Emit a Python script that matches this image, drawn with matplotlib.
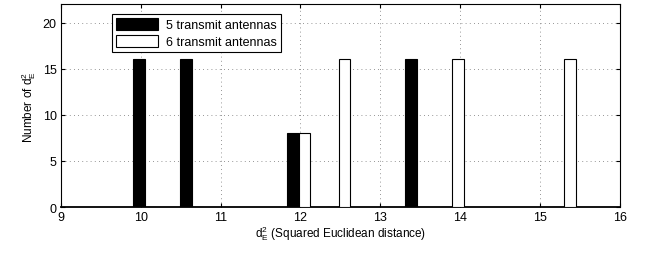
import numpy as np
import matplotlib.pyplot as plt

plt.rcParams['font.family'] = ['Liberation Sans', 'DejaVu Sans']

# distinct squared Euclidean distances (group centres) and counts
dist = [10.05, 10.64, 11.98, 12.48, 13.46, 13.9, 15.3]
count_5tx = [16, 16, 8, 0, 16, 0, 0]
count_6tx = [0, 0, 8, 16, 0, 16, 16]
labels = ['5 transmit antennas', '6 transmit antennas']

fig = plt.figure(figsize=(6.47, 2.55), dpi=100)
ax = fig.add_axes([0.094, 0.184, 0.864, 0.796])

w = 0.145
x = np.array(dist)
ax.bar(x - w / 2, count_5tx, w, color='black', edgecolor='black', lw=0.8,
       label=labels[0], zorder=3)
ax.bar(x + w / 2, count_6tx, w, color='white', edgecolor='black', lw=0.8,
       label=labels[1], zorder=3)

ax.set_xlim(9, 16)
ax.set_ylim(0, 22)
ax.set_xticks(range(9, 17))
ax.set_yticks([0, 5, 10, 15, 20])
ax.grid(True, ls=(0, (1, 4)), color='0.45', lw=0.6, zorder=0)
ax.tick_params(direction='in', top=True, right=True, labelsize=9, length=3, pad=3)
for s in ax.spines.values():
    s.set_linewidth(0.8)
ax.spines['bottom'].set_linewidth(1.3)

ax.set_xlabel(r'$\mathregular{d_E^2}$ (Squared Euclidean distance)', fontsize=8.5, labelpad=0)
ax.set_ylabel(r'Number of $\mathregular{d_E^2}$', fontsize=8.5, labelpad=3)

leg = ax.legend(loc='upper left', bbox_to_anchor=(0.092, 0.95), fontsize=9,
                fancybox=False, edgecolor='black', framealpha=1,
                handlelength=3.4, handleheight=1.1, borderpad=0.3,
                labelspacing=0.3, handletextpad=0.6, borderaxespad=0)
leg.get_frame().set_linewidth(0.8)

fig.savefig('out.png', dpi=100)
